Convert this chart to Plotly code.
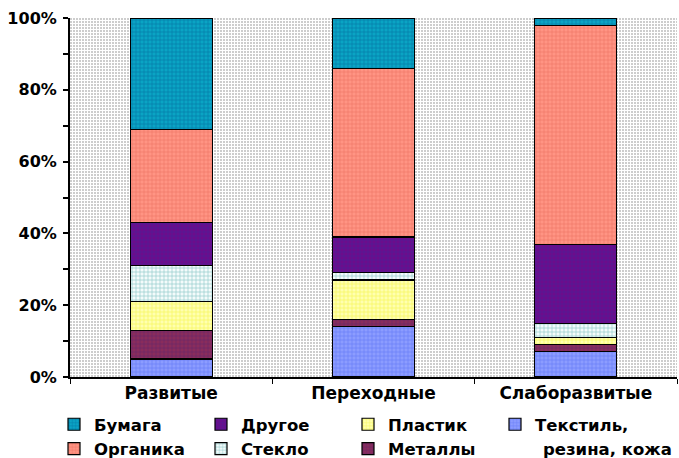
import base64
import plotly.graph_objects as go

# Состав твёрдых бытовых отходов по группам стран, %
groups = ["Развитые", "Переходные", "Слаборазвитые"]

textile = [5, 14, 7]
metals = [8, 2, 2]
plastic = [8, 11, 2]
glass = [10, 2, 4]
other = [12, 10, 22]
organic = [26, 47, 61]
paper = [31, 14, 2]

y_ticks = [0, 20, 40, 60, 80, 100]

FONT = "DejaVu Sans"

# (name, values, base colour, grid colour), drawn from the bottom of each column up
series = [
    ("Текстиль,", textile, "#8c9cff", "#3f5ff0"),
    ("Металлы", metals, "#8a2c5c", "#4a2070"),
    ("Пластик", plastic, "#ffffb0", "#eeee00"),
    ("Стекло", glass, "#f4fbfb", "#2a9a9a"),
    ("Другое", other, "#6c0c8c", "#2c2c9c"),
    ("Органика", organic, "#ff9484", "#e05a48"),
    ("Бумага", paper, "#0aa4c4", "#00508a"),
]
legend_rank = {"Бумага": 1, "Другое": 2, "Пластик": 3, "Текстиль,": 4,
               "Органика": 5, "Стекло": 6, "Металлы": 7}

# Dotted grey fill for the plotting area
PW, PH = 607, 359
dots_svg = (
    f'<svg xmlns="http://www.w3.org/2000/svg" width="{PW}" height="{PH}">'
    '<defs><pattern id="d" width="3" height="3" patternUnits="userSpaceOnUse">'
    '<rect width="3" height="3" fill="#ffffff"/>'
    '<rect width="2" height="2" fill="#cdcdcd"/>'
    '</pattern></defs>'
    f'<rect width="{PW}" height="{PH}" fill="url(#d)"/></svg>'
)
dots_uri = "data:image/svg+xml;base64," + base64.b64encode(dots_svg.encode()).decode()

fig = go.Figure()
for name, vals, base, grid in series:
    fig.add_trace(go.Bar(
        x=groups, y=vals, name=name,
        legendrank=legend_rank[name],
        marker=dict(
            color=base,
            line=dict(color="black", width=1.2),
            pattern=dict(shape="+", fgcolor=grid, size=4, solidity=0.3,
                         fillmode="overlay"),
        ),
    ))

fig.update_layout(
    width=679, height=458,
    barmode="stack", bargap=0.595,
    plot_bgcolor="#e8e8e8", paper_bgcolor="white",
    margin=dict(l=70, r=2, t=18, b=81, autoexpand=False),
    font=dict(family=FONT, size=16, color="black", weight="bold"),
    showlegend=True,
    legend=dict(
        orientation="h", xref="container", yref="container",
        x=54 / 679, y=1 - 407 / 458, xanchor="left", yanchor="top",
        entrywidth=102, entrywidthmode="pixels",
        font=dict(family=FONT, size=16.5, weight="bold"),
        traceorder="normal", bgcolor="rgba(0,0,0,0)", borderwidth=0,
    ),
    annotations=[dict(
        text="резина, кожа", xref="paper", yref="paper",
        x=(541 - 70) / 607, y=(377 - 449) / 359,
        xanchor="left", yanchor="middle", showarrow=False,
        font=dict(family=FONT, size=16.5, weight="bold"),
    )],
    images=[dict(
        source=dots_uri, xref="paper", yref="paper", x=0, y=1,
        sizex=1, sizey=1, xanchor="left", yanchor="top",
        sizing="stretch", layer="below",
    )],
)

fig.update_xaxes(
    showline=True, linecolor="black", linewidth=2,
    ticks="outside", tickson="boundaries", ticklen=5, tickcolor="black",
    tickfont=dict(family=FONT, size=17, weight="bold"),
    showgrid=False, zeroline=False,
)
fig.update_yaxes(
    range=[0, 100], tickvals=y_ticks, ticktext=[f"{v}%" for v in y_ticks],
    showline=True, linecolor="black", linewidth=2,
    ticks="outside", ticklen=5, tickcolor="black", tickwidth=2,
    minor=dict(dtick=10, ticks="outside", ticklen=5, tickcolor="black", tickwidth=2),
    tickfont=dict(family=FONT, size=16, weight="bold"),
    showgrid=False, zeroline=False, ticklabelstandoff=3,
)

fig.write_html("out.html")
